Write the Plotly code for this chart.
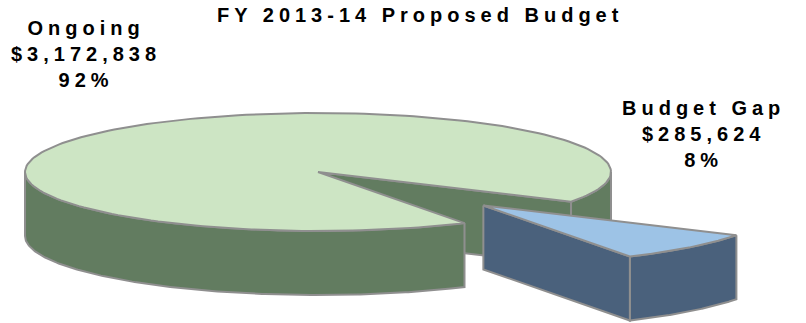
import numpy as np
import plotly.graph_objects as go

# ---- data ----
labels = ["Ongoing", "Budget Gap"]
values = [3172838, 285624]
title_text = "FY 2013-14 Proposed Budget"

# ---- style / geometry ----
W, H = 806, 323
cx, cy = 318, 172       # pie centre (pixels)
a, b = 293, 59          # ellipse radii
depth = 64
gap_end_angle = 60.0    # parametric angle where the gap slice ends (clockwise on screen)
explode = 0.8
top_colors = ["#CDE5C4", "#9DC3E6"]
side_colors = ["#627C60", "#4A617C"]
edge = "#8F8F8F"
font_family = "Liberation Sans, Arial, sans-serif"

total = sum(values)
fracs = [v / total for v in values]
gap_start = gap_end_angle - 360 * fracs[1]
on_start, on_end = gap_end_angle, 360 + gap_start


def rim(t0, t1, dx=0, dy=0, z=0, n=200):
    t = np.radians(np.linspace(t0, t1, n))
    return cx + dx + a * np.cos(t), cy + dy + b * np.sin(t) + z


fig = go.Figure()


def poly(xs, ys, color):
    xs = list(xs) + [xs[0]]
    ys = list(ys) + [ys[0]]
    fig.add_trace(go.Scatter(x=xs, y=ys, mode="lines", fill="toself",
                             fillcolor=color, line=dict(color=edge, width=2),
                             hoverinfo="skip", showlegend=False))


def cut_face(theta, color, dx=0, dy=0):
    t = np.radians(theta)
    rx, ry = cx + dx + a * np.cos(t), cy + dy + b * np.sin(t)
    poly([cx + dx, rx, rx, cx + dx], [cy + dy, ry, ry + depth, cy + dy + depth], color)


def side(t0, t1, color, dx=0, dy=0):
    x1, y1 = rim(t0, t1, dx, dy)
    x2, y2 = rim(t1, t0, dx, dy, depth)
    poly(np.concatenate([x1, x2]), np.concatenate([y1, y2]), color)


def top(t0, t1, color, dx=0, dy=0):
    x1, y1 = rim(t0, t1, dx, dy)
    poly(np.concatenate([[cx + dx], x1]), np.concatenate([[cy + dy], y1]), color)


# Ongoing slice
cut_face(on_end, side_colors[0])
side(360, on_end, side_colors[0])
side(on_start, 180, side_colors[0])
top(on_start, on_end, top_colors[0])

# Budget Gap slice (exploded)
mid = np.radians((gap_start + gap_end_angle) / 2)
ex, ey = explode * a * np.cos(mid), explode * b * np.sin(mid)
side(gap_start, gap_end_angle, side_colors[1], ex, ey)
cut_face(gap_end_angle, side_colors[1], ex, ey)
top(gap_start, gap_end_angle, top_colors[1], ex, ey)

ls = "letter-spacing:5px"


def lab(i):
    return (f"<span style='{ls}'>{labels[i]}</span><br>"
            f"<span style='{ls}'>${values[i]:,}</span><br>"
            f"<span style='{ls}'>{round(fracs[i]*100)}%</span>")


annotations = [
    dict(x=420, y=15, text=f"<span style='{ls}'>{title_text}</span>"),
    dict(x=86, y=54, text=lab(0)),
    dict(x=703, y=134, text=lab(1)),
]
for an in annotations:
    an.update(xref="x", yref="y", showarrow=False, xanchor="center", yanchor="middle",
              font=dict(family=font_family, size=20, color="#000000"))
    an["text"] = "<b>" + an["text"] + "</b>"

fig.update_layout(
    width=W, height=H, margin=dict(l=0, r=0, t=0, b=0),
    paper_bgcolor="white", plot_bgcolor="white",
    xaxis=dict(range=[0, W], visible=False, fixedrange=True),
    yaxis=dict(range=[H, 0], visible=False, fixedrange=True),
    annotations=annotations,
)
fig.write_html("out.html")
